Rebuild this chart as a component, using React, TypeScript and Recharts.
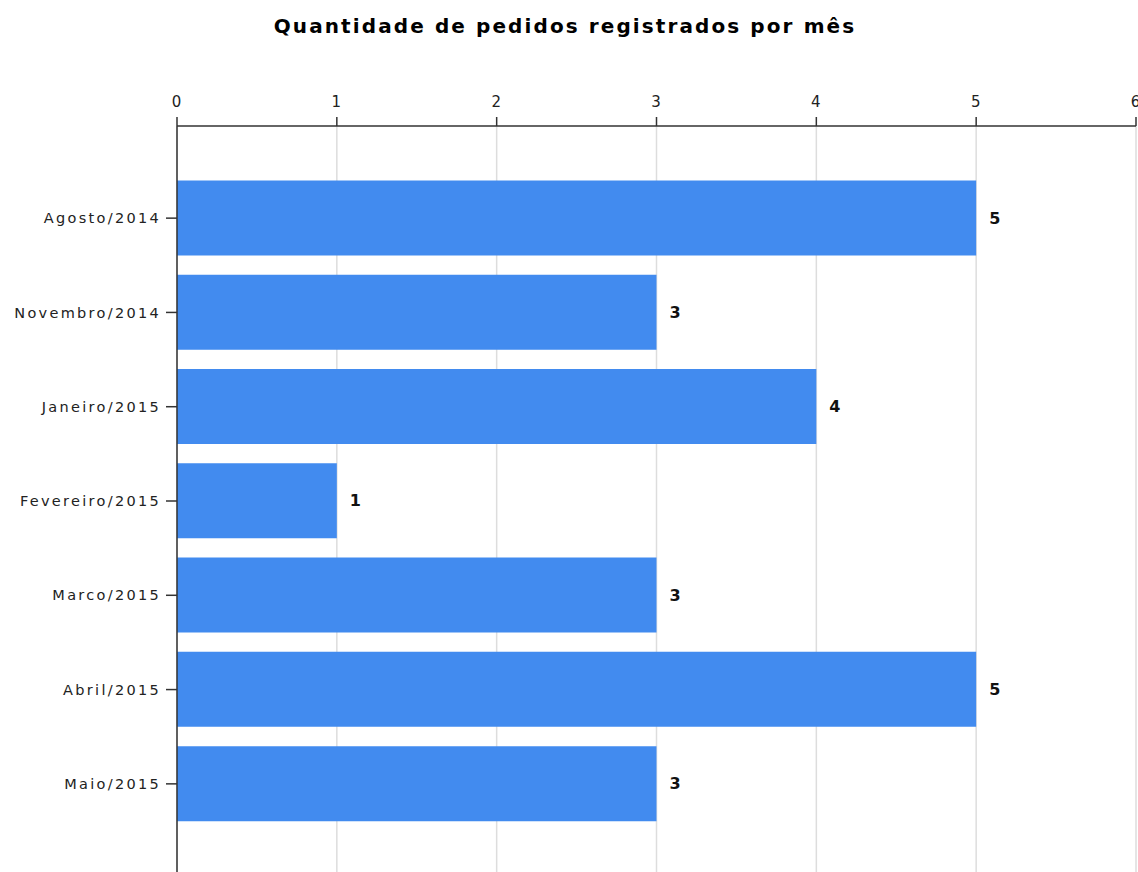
import React from "react";
import { BarChart, Bar, XAxis, YAxis, CartesianGrid, LabelList } from "recharts";

const categories = [
  "Agosto/2014",
  "Novembro/2014",
  "Janeiro/2015",
  "Fevereiro/2015",
  "Marco/2015",
  "Abril/2015",
  "Maio/2015",
];
const pedidos = [5, 3, 4, 1, 3, 5, 3];
const xTicks = [0, 1, 2, 3, 4, 5, 6];
const title = "Quantidade de pedidos registrados por mês";

const data = categories.map((mes, i) => ({ mes, pedidos: pedidos[i] }));

const FONT = "'DejaVu Sans', Verdana, sans-serif";

export default function App() {
  return (
    <div
      style={{
        position: "fixed",
        left: 0,
        top: 0,
        width: 1138,
        height: 872,
        overflow: "hidden",
        fontFamily: FONT,
        background: "#fff",
      }}
    >
      <div
        style={{
          position: "absolute",
          left: 0,
          width: 1130,
          top: 14,
          textAlign: "center",
          fontSize: 20,
          fontWeight: "bold",
          letterSpacing: 2.1,
          color: "#000",
        }}
      >
        {title}
      </div>
      <BarChart
        width={1138}
        height={890}
        data={data}
        layout="vertical"
        margin={{ top: 96, right: 2, bottom: 14, left: 0 }}
        barCategoryGap="10%"
        style={{ overflow: "visible" }}
      >
        <CartesianGrid horizontal={false} stroke="#dddddd" strokeWidth={1.5} />
        <XAxis
          type="number"
          orientation="top"
          domain={[0, 6]}
          ticks={xTicks}
          interval={0}
          height={30}
          tickSize={9}
          tickMargin={10}
          stroke="#333"
          strokeWidth={1.5}
          tick={{ fill: "#222", fontSize: 15, fontFamily: FONT, letterSpacing: 1 }}
        />
        <YAxis
          type="category"
          dataKey="mes"
          width={177}
          tickSize={11}
          tickMargin={5}
          padding={{ top: 45, bottom: 45 }}
          stroke="#333"
          strokeWidth={1.5}
          tick={{ fill: "#222", fontSize: 14.5, fontFamily: FONT, letterSpacing: 2.3 }}
        />
        <Bar dataKey="pedidos" fill="#428bef" isAnimationActive={false}>
          <LabelList
            dataKey="pedidos"
            position="right"
            offset={13}
            style={{ fill: "#111", fontSize: 16, fontWeight: "bold", fontFamily: FONT }}
          />
        </Bar>
      </BarChart>
    </div>
  );
}
